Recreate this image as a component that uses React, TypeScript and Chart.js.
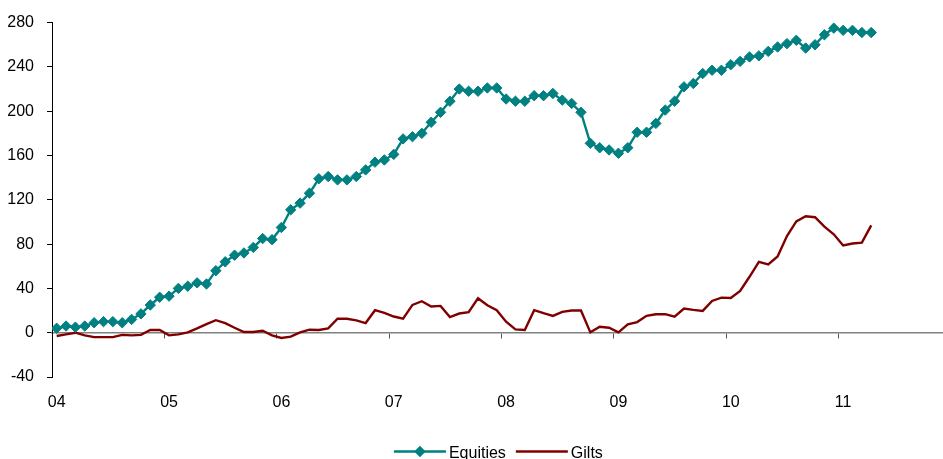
import { useEffect, useRef } from 'react';
import { Chart, registerables } from 'chart.js';

Chart.register(...registerables);

// ---- data (monthly, Jan 2004 – Apr 2011) ----
const yearLabels = ['04', '05', '06', '07', '08', '09', '10', '11'];
const monthsPerYear = 12;
const monthsOnAxis = 96;

const equities = [
  4, 6, 5, 6, 9, 10, 10, 9, 12, 17,
  25, 32, 33, 40, 42, 45, 44, 56, 64, 70,
  72, 77, 85, 84, 95, 111, 117, 126, 139, 141,
  138, 138, 141, 147, 154, 156, 161, 175, 177, 180,
  190, 199, 209, 220, 218, 218, 221, 221, 211, 209,
  209, 214, 214, 216, 210, 207, 199, 171, 167, 165,
  162, 167, 181, 181, 189, 201, 209, 222, 225, 234,
  237, 237, 242, 245, 249, 250, 254, 258, 261, 264,
  257, 260, 269, 275, 273, 273, 271, 271,
];

const gilts = [
  -3, -1.5, 0, -2.4, -4, -4, -4, -2, -2.4, -2,
  2.4, 2.4, -2.4, -1.5, 0.3, 3.9, 7.8, 11.3, 8.7, 4.5,
  0.6, 0.6, 1.8, -2.4, -4.8, -3.6, 0.3, 2.7, 2.4, 3.9,
  12.6, 12.6, 11.1, 8.7, 20.3, 17.9, 14.6, 12.6, 25.1, 28.4,
  23.6, 24.2, 14.1, 17.3, 18.5, 31.1, 24.8, 20.3, 9.9, 3,
  2.4, 20.3, 17.6, 15.2, 18.8, 20, 20, 0.3, 5.4, 4.5,
  0.3, 7.5, 9.6, 15.2, 16.7, 16.7, 14.4, 21.8, 20.6, 19.7,
  28.7, 31.7, 31.4, 37.7, 50.5, 64, 61.6, 68.8, 87.3, 100.5,
  105.2, 104.3, 95.7, 88.8, 78.7, 80.5, 81.3, 96.9,
];

const yMin = -40;
const yMax = 280;
const yStep = 40;

const FONT = "'Liberation Sans', Arial, Helvetica, sans-serif";
const TEAL = '#008080';
const MAROON = '#800000';

const toPoints = (arr: number[]) => arr.map((v, i) => ({ x: i + 0.5, y: v }));

const lineLegend = {
  id: 'lineLegend',
  afterDraw(chart: any) {
    const { ctx, chartArea } = chart;
    const sets = chart.data.datasets;
    const lineW = 52;
    const textGap = 3;
    const itemGap = 10;
    const y = 451.5;
    ctx.save();
    ctx.font = `16px ${FONT}`;
    const widths = sets.map((d: any) => lineW + textGap + ctx.measureText(d.label).width);
    const total = widths.reduce((a: number, b: number) => a + b, 0) + itemGap * (sets.length - 1);
    let x = (chartArea.left + chartArea.right) / 2 - total / 2 - 3;
    sets.forEach((d: any, k: number) => {
      ctx.strokeStyle = d.borderColor;
      ctx.lineWidth = d.borderWidth;
      ctx.beginPath();
      ctx.moveTo(x, y);
      ctx.lineTo(x + lineW, y);
      ctx.stroke();
      if (d.pointRadius > 0) {
        const cx = x + lineW / 2;
        const r = d.pointRadius + 0.5;
        ctx.fillStyle = d.borderColor;
        ctx.beginPath();
        ctx.moveTo(cx, y - r);
        ctx.lineTo(cx + r, y);
        ctx.lineTo(cx, y + r);
        ctx.lineTo(cx - r, y);
        ctx.closePath();
        ctx.fill();
      }
      ctx.fillStyle = '#000';
      ctx.textBaseline = 'alphabetic';
      ctx.textAlign = 'left';
      ctx.fillText(d.label, x + lineW + textGap, y + 6);
      x += widths[k] + itemGap;
    });
    ctx.restore();
  },
};

export default function App() {
  const ref = useRef<HTMLCanvasElement | null>(null);

  useEffect(() => {
    if (!ref.current) return;
    const chart = new Chart(ref.current, {
      type: 'line',
      data: {
        datasets: [
          {
            label: 'Equities',
            data: toPoints(equities),
            borderColor: TEAL,
            backgroundColor: TEAL,
            borderWidth: 2.4,
            pointStyle: 'rectRot',
            pointRadius: 5.2,
            pointBorderWidth: 1,
            pointBackgroundColor: TEAL,
            pointBorderColor: TEAL,
            tension: 0,
          },
          {
            label: 'Gilts',
            data: toPoints(gilts),
            borderColor: MAROON,
            backgroundColor: MAROON,
            borderWidth: 2.4,
            pointRadius: 0,
            tension: 0,
          },
        ],
      },
      options: {
        animation: false,
        responsive: false,
        maintainAspectRatio: false,
        layout: { padding: { top: 20, left: 0, right: 0, bottom: 0 } },
        plugins: {
          legend: { display: false },
          tooltip: { enabled: false },
        },
        scales: {
          x: {
            type: 'linear',
            position: 'bottom',
            min: 0,
            max: monthsOnAxis,
            grid: { display: false },
            border: { display: false },
            afterBuildTicks: (s: any) => {
              s.ticks = yearLabels.map((_, k) => ({ value: k * monthsPerYear + 0.5 }));
            },
            afterFit: (s: any) => {
              s.height = 82;
            },
            ticks: {
              padding: 8,
              color: '#000',
              font: { family: FONT, size: 16 },
              autoSkip: false,
              maxRotation: 0,
              callback: (v: any) => yearLabels[Math.floor(Number(v) / monthsPerYear)] ?? '',
            },
          },
          x0: {
            type: 'linear',
            position: { y: 0 } as any,
            min: 0,
            max: monthsOnAxis,
            afterBuildTicks: (s: any) => {
              s.ticks = yearLabels.map((_, k) => ({ value: k * monthsPerYear }));
            },
            grid: {
              display: true,
              drawOnChartArea: false,
              drawTicks: true,
              tickLength: 5,
              color: '#555',
              lineWidth: 1,
            },
            border: { display: true, color: '#808080', width: 1.5 },
            ticks: { display: false },
          },
          y: {
            type: 'linear',
            position: 'left',
            min: yMin,
            max: yMax,
            afterFit: (s: any) => {
              s.width = 52;
            },
            ticks: {
              stepSize: yStep,
              padding: 13,
              color: '#000',
              font: { family: FONT, size: 16 },
            },
            grid: {
              display: true,
              drawOnChartArea: false,
              drawTicks: true,
              tickLength: 5,
              color: '#000',
              lineWidth: 1,
            },
            border: { display: true, color: '#000', width: 1 },
          },
        },
      },
      plugins: [lineLegend],
    });
    return () => chart.destroy();
  }, []);

  return (
    <div
      style={{
        position: 'absolute',
        left: 0,
        top: 0,
        width: 943,
        height: 459,
        overflow: 'hidden',
        background: '#fff',
      }}
    >
      <canvas ref={ref} width={957} height={459} style={{ display: 'block' }} />
    </div>
  );
}
